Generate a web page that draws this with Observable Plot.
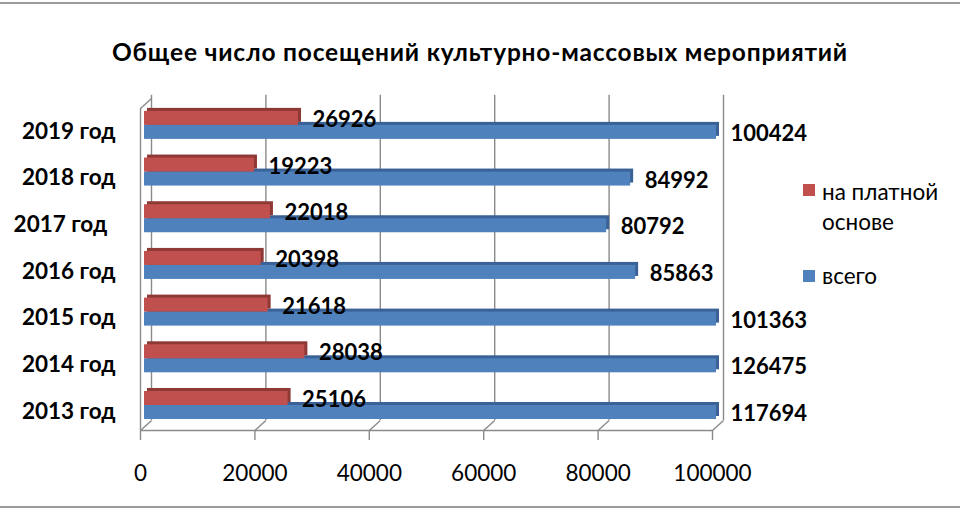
<!DOCTYPE html>
<html>
<head>
<meta charset="utf-8">
<script src="https://cdn.jsdelivr.net/npm/d3@7"></script>
<script src="https://cdn.jsdelivr.net/npm/@observablehq/plot@0.6"></script>
<style>
  html, body { margin: 0; padding: 0; background: #fff; }
  #wrap { position: relative; width: 960px; height: 510px; overflow: hidden; font-family: Lato, "Open Sans", sans-serif; color: #000; }
  .hline { position: absolute; left: 0; width: 960px; height: 2px; background: #9a9a9a; }
  #title { position: absolute; left: 0; top: 37px; width: 960px; text-align: center; font-weight: bold; font-size: 24.5px; letter-spacing: 0.8px; line-height: 30px; }
  .leg { position: absolute; font-size: 22.5px; line-height: 30px; }
  .sw { position: absolute; width: 12px; height: 12px; }
  #chart { position: absolute; left: 0; top: 0; }
</style>
</head>
<body>
<div id="wrap">
  <div class="hline" style="top:2px"></div>
  <div class="hline" style="top:506px"></div>
  <div id="title"></div>
  <div id="chart"></div>
  <div id="legend"></div>
</div>
<script>
const title = "Общее число посещений культурно-массовых мероприятий";
const years = ["2013 год", "2014 год", "2015 год", "2016 год", "2017 год\u00a0\u2009", "2018 год", "2019 год"];
const total = [117694, 126475, 101363, 85863, 80792, 84992, 100424];
const paid  = [25106, 28038, 21618, 20398, 22018, 19223, 26926];
const seriesNames = ["на платной основе", "всего"];
const seriesColors = ["#C0504D", "#4F81BD"];
const sideColors = ["#8E3936", "#3A6296"];
const xTicks = [0, 20000, 40000, 60000, 80000, 100000];

const xMax = 100000;
const rows = years.map((y, i) => ({i, year: y, paid: paid[i], total: total[i]}));

const yBot = -0.536, yTop = 6.64;
const pxY = 335 / (yTop - yBot);          // pixels per category step
const pxX = 572 / xMax;                   // pixels per unit
const depthX = 11 / pxX, depthY = 10 / pxY;
const grid = "#8a8a8a";

document.getElementById("title").textContent = title;

const plot = Plot.plot({
  width: 960, height: 510,
  marginLeft: 140, marginRight: 248, marginTop: 95, marginBottom: 80,
  x: {domain: [0, xMax], label: null},
  y: {domain: [yBot, yTop], label: null},
  style: {fontFamily: 'Lato, "Open Sans", sans-serif', background: "transparent", color: "#000"},
  marks: [
    // back wall gridlines
    Plot.ruleX(xTicks, {y1: yBot, y2: 6.43, dx: 11, dy: -10, stroke: grid, strokeWidth: 1.4}),
    // floor slants
    Plot.link(xTicks, {x1: d => d, x2: d => d + depthX, y1: yBot, y2: yBot + depthY, stroke: grid, strokeWidth: 1.4}),
    // front floor line
    Plot.ruleY([yBot], {x1: 0, x2: xMax, stroke: grid, strokeWidth: 1.4}),
    // left wall front edge and top slant
    Plot.ruleX([0], {y1: yBot, y2: 6.36, stroke: grid, strokeWidth: 1.4}),
    Plot.link([0], {x1: 0, x2: depthX, y1: 6.36, y2: 6.36 + depthY, stroke: grid, strokeWidth: 1.4}),
    // tick marks
    Plot.ruleX(xTicks, {y1: yBot, y2: yBot - 10 / pxY, stroke: grid, strokeWidth: 1.4}),
    // blue bars (всего)
    Plot.rectX(rows, {x1: 0, x2: d => Math.min(d.total, xMax), y1: d => d.i - 0.3, y2: d => d.i, fill: sideColors[1], dx: 7, dy: -3}),
    Plot.rectX(rows, {x1: 0, x2: d => Math.min(d.total, xMax), y1: d => d.i - 0.3, y2: d => d.i, fill: seriesColors[1], dx: 4}),
    // red bars (на платной основе)
    Plot.rectX(rows, {x1: 0, x2: d => Math.min(d.paid, xMax), y1: d => d.i, y2: d => d.i + 0.3, fill: sideColors[0], dx: 7, dy: -3}),
    Plot.rectX(rows, {x1: 0, x2: d => Math.min(d.paid, xMax), y1: d => d.i, y2: d => d.i + 0.3, fill: seriesColors[0], dx: 4}),
    // value labels
    Plot.text(rows, {x: d => Math.min(d.paid, xMax), y: d => d.i + 0.15, text: d => String(d.paid), textAnchor: "start", dx: 18, dy: 1.5, fontWeight: "bold", fontSize: 22, fill: "#000"}),
    Plot.text(rows, {x: d => Math.min(d.total, xMax), y: d => d.i - 0.15, text: d => String(d.total), textAnchor: "start", dx: 18, dy: 1.5, fontWeight: "bold", fontSize: 22, fill: "#000"}),
    // axes
    Plot.axisX(xTicks, {tickSize: 0, tickPadding: 35, tickFormat: d3.format("d"), fontSize: 22.5, label: null}),
    Plot.axisY(d3.range(years.length), {tickSize: 0, tickPadding: 25, tickFormat: i => years[i], fontSize: 22.5, fontWeight: "bold", dy: 6, label: null})
  ]
});
document.getElementById("chart").appendChild(plot);

const legend = document.getElementById("legend");
const legItems = [
  {sw: seriesColors[0], swTop: 184, lines: ["на платной", "основе"], top: 177},
  {sw: seriesColors[1], swTop: 270, lines: [seriesNames[1]], top: 261}
];
legItems.forEach(it => {
  const s = document.createElement("div");
  s.className = "sw"; s.style.left = "803px"; s.style.top = it.swTop + "px"; s.style.background = it.sw;
  legend.appendChild(s);
  const t = document.createElement("div");
  t.className = "leg"; t.style.left = "822px"; t.style.top = it.top + "px";
  t.innerHTML = it.lines.join("<br>");
  legend.appendChild(t);
});
</script>
</body>
</html>
